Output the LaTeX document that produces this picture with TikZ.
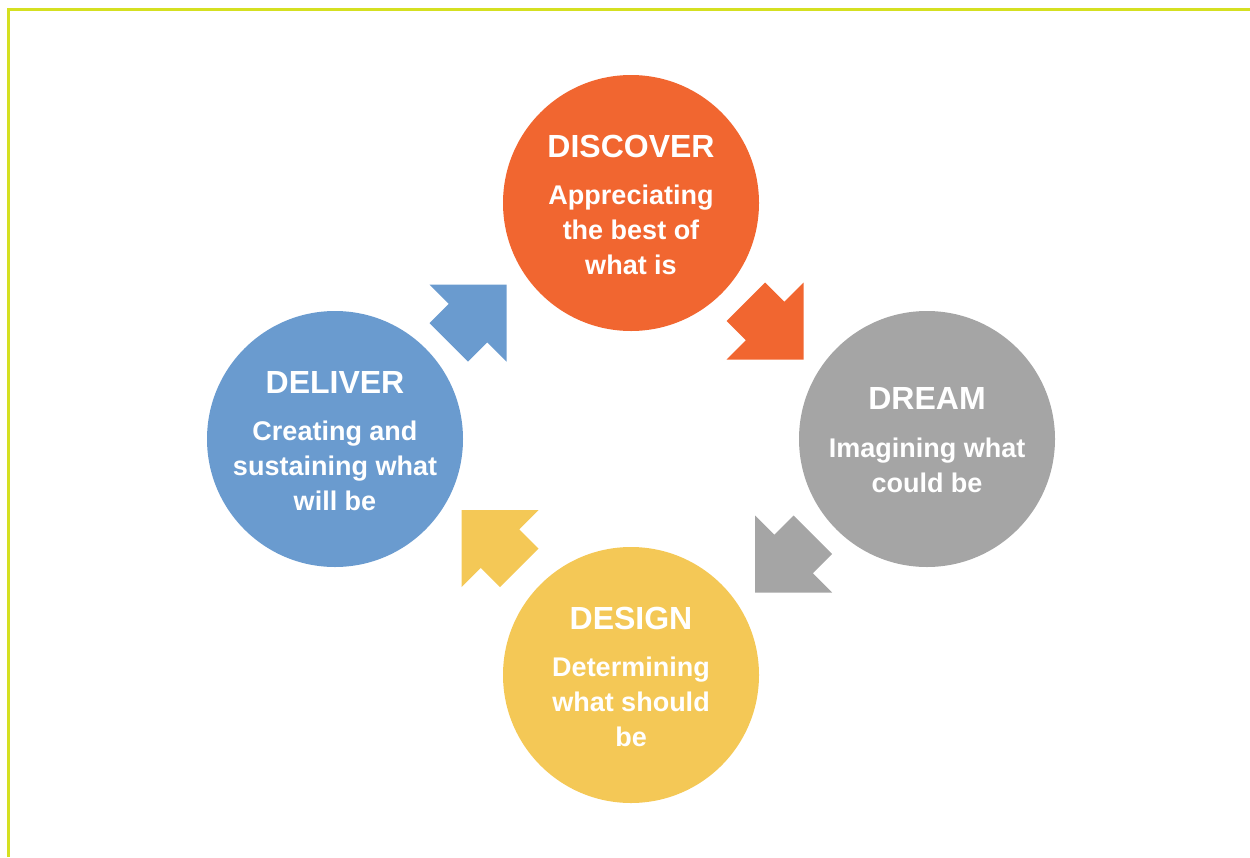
\documentclass[tikz,border=0pt]{standalone}
\usepackage{fontspec}
\setmainfont{Liberation Sans}
\definecolor{frameC}{HTML}{D5E021}
\definecolor{discoverC}{HTML}{F16630}
\definecolor{dreamC}{HTML}{A5A5A5}
\definecolor{designC}{HTML}{F4C856}
\definecolor{deliverC}{HTML}{6A9BCF}
\tikzset{
  phase/.style={circle, minimum size=256pt, inner sep=0pt, draw=none},
  ttl/.style={anchor=base, text=white, font=\fontsize{32}{36}\selectfont\bfseries, inner sep=0pt},
  bdy/.style={anchor=base, text=white, font=\fontsize{27}{33}\selectfont\bfseries, inner sep=0pt},
  cyclearrow/.pic={
    \fill[pic actions] (0,-38.5) -- (19.25,-19.25) -- (38.5,-38.5) -- (38.5,38.5)
      -- (-38.5,38.5) -- (-19.25,19.25) -- (-38.5,0) -- cycle;
  }
}
\begin{document}
\begin{tikzpicture}[x=1pt,y=-1pt]
\useasboundingbox (0,0) rectangle (1250,857);
% frame
\draw[frameC, line width=3pt] (1250,9) -- (8.5,9) -- (8.5,857);
% circles
\node[phase, fill=discoverC] (discover) at (631,203) {};
\node[phase, fill=dreamC] (dream) at (927,439) {};
\node[phase, fill=designC] (design) at (631,675) {};
\node[phase, fill=deliverC] (deliver) at (335,439) {};
% arrows
\pic[fill=discoverC] (a1) at (765,321) {cyclearrow};
\pic[fill=dreamC, xscale=-1] (a2) at (793.5,554) {cyclearrow};
\pic[fill=designC, xscale=-1, yscale=-1] (a3) at (500,548.5) {cyclearrow};
\pic[fill=deliverC, yscale=-1] (a4) at (468,323) {cyclearrow};
% texts
\node[ttl] (t1) at ([yshift=46pt]discover.center) {DISCOVER};
\node[bdy] (b1a) at ([yshift=-1pt]discover.center) {Appreciating};
\node[bdy] (b1b) at ([yshift=-36pt]discover.center) {the best of};
\node[bdy] (b1c) at ([yshift=-71pt]discover.center) {what is};
\node[ttl] (t2) at ([yshift=30pt]dream.center) {DREAM};
\node[bdy] (b2a) at ([yshift=-18pt]dream.center) {Imagining what};
\node[bdy] (b2b) at ([yshift=-53pt]dream.center) {could be};
\node[ttl] (t3) at ([yshift=46pt]design.center) {DESIGN};
\node[bdy] (b3a) at ([yshift=-1pt]design.center) {Determining};
\node[bdy] (b3b) at ([yshift=-36pt]design.center) {what should};
\node[bdy] (b3c) at ([yshift=-71pt]design.center) {be};
\node[ttl] (t4) at ([yshift=46pt]deliver.center) {DELIVER};
\node[bdy] (b4a) at ([yshift=-1pt]deliver.center) {Creating and};
\node[bdy] (b4b) at ([yshift=-36pt]deliver.center) {sustaining what};
\node[bdy] (b4c) at ([yshift=-71pt]deliver.center) {will be};
\end{tikzpicture}
\end{document}
